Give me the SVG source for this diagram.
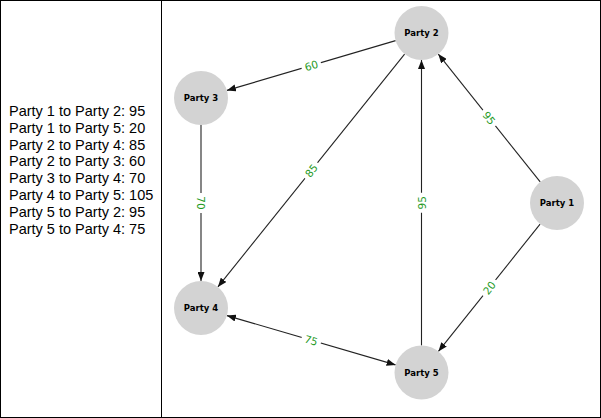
<svg xmlns="http://www.w3.org/2000/svg" width="601" height="418" viewBox="0 0 601 418">
<style>
.frame{fill:#fff;stroke:#000;stroke-width:1}
.list{font-family:"Liberation Sans",Arial,sans-serif;font-size:14.5px;fill:#000}
.node circle{fill:#d3d3d3;stroke:none}
.node text{font-family:"DejaVu Sans",sans-serif;font-weight:bold;font-size:8.5px;fill:#000;text-anchor:middle;dominant-baseline:central}
.edge{stroke:#222;stroke-width:1.1;fill:none}
.lbl rect{fill:#fff}
.lbl text{font-family:"DejaVu Sans",sans-serif;font-size:10.5px;fill:#1f9a1f;text-anchor:middle;dominant-baseline:central}
</style>
<defs>
<marker id="ah" viewBox="0 0 9 7" refX="9" refY="3.5" markerWidth="9" markerHeight="7" markerUnits="userSpaceOnUse" orient="auto-start-reverse">
<path d="M0,0 L9,3.5 L0,7 z" fill="#111"/>
</marker>
</defs>
<rect class="frame" x="0.5" y="0.5" width="600" height="417"/>
<line x1="161.5" y1="0" x2="161.5" y2="418" stroke="#000" stroke-width="1"/>
<g id="legend" class="list">
<text x="9" y="116">Party 1 to Party 2: 95</text>
<text x="9" y="132.8">Party 1 to Party 5: 20</text>
<text x="9" y="149.6">Party 2 to Party 4: 85</text>
<text x="9" y="166.4">Party 2 to Party 3: 60</text>
<text x="9" y="183.2">Party 3 to Party 4: 70</text>
<text x="9" y="200">Party 4 to Party 5: 105</text>
<text x="9" y="216.8">Party 5 to Party 2: 95</text>
<text x="9" y="233.6">Party 5 to Party 4: 75</text>
</g>
<g id="connectors">
<line class="edge" x1="540.2" y1="181.9" x2="438.3" y2="54.1" marker-end="url(#ah)"/>
<line class="edge" x1="540.1" y1="224.1" x2="438.4" y2="351.4" marker-end="url(#ah)"/>
<line class="edge" x1="404.6" y1="54.1" x2="217.9" y2="286.9" marker-end="url(#ah)"/>
<line class="edge" x1="395.6" y1="40.6" x2="226.9" y2="90.4" marker-end="url(#ah)"/>
<line class="edge" x1="201" y1="125" x2="201" y2="281" marker-end="url(#ah)"/>
<line class="edge" x1="226.9" y1="315.6" x2="395.6" y2="364.9" marker-start="url(#ah)" marker-end="url(#ah)"/>
<line class="edge" x1="421.5" y1="345.5" x2="421.5" y2="60" marker-end="url(#ah)"/>
<g class="lbl" transform="translate(489.25,118) rotate(51.3)"><rect x="-10" y="-7" width="20" height="14"/><text>95</text></g>
<g class="lbl" transform="translate(489.25,287.75) rotate(-51.2)"><rect x="-10" y="-7" width="20" height="14"/><text>20</text></g>
<g class="lbl" transform="translate(311.25,170.5) rotate(-51.3)"><rect x="-10" y="-7" width="20" height="14"/><text>85</text></g>
<g class="lbl" transform="translate(311.25,65.5) rotate(-16.5)"><rect x="-10" y="-7" width="20" height="14"/><text>60</text></g>
<g class="lbl" transform="translate(201,203) rotate(90)"><rect x="-10" y="-7" width="20" height="14"/><text>70</text></g>
<g class="lbl" transform="translate(311.25,340.25) rotate(16.4)"><rect x="-10" y="-7" width="20" height="14"/><text>75</text></g>
<g class="lbl" transform="translate(421.5,202.75) rotate(-90)"><rect x="-10" y="-7" width="20" height="14"/><text>95</text></g>
</g>
<g id="party1" class="node"><circle cx="557" cy="203" r="27"/><text x="557" y="203">Party 1</text></g>
<g id="party2" class="node"><circle cx="421.5" cy="33" r="27"/><text x="421.5" y="33">Party 2</text></g>
<g id="party3" class="node"><circle cx="201" cy="98" r="27"/><text x="201" y="98">Party 3</text></g>
<g id="party4" class="node"><circle cx="201" cy="308" r="27"/><text x="201" y="308">Party 4</text></g>
<g id="party5" class="node"><circle cx="421.5" cy="372.5" r="27"/><text x="421.5" y="372.5">Party 5</text></g>
</svg>
